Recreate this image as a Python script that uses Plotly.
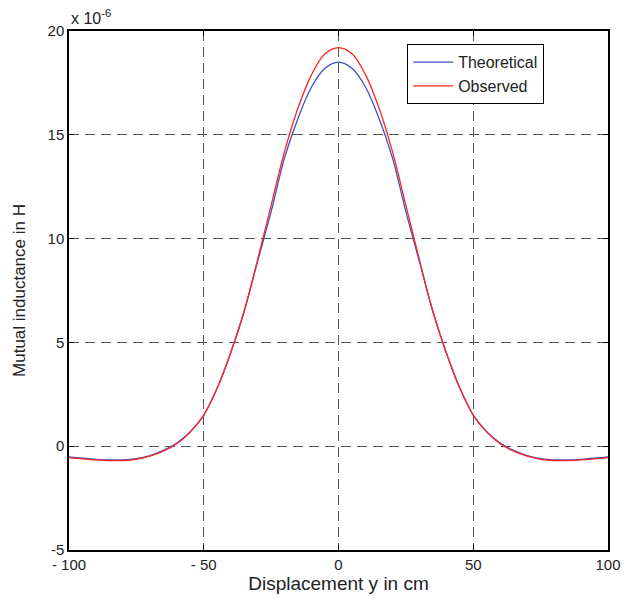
import plotly.graph_objects as go

# Displacement (cm)
x_cm = [-100, -95, -90, -85, -80, -75, -70, -65, -60, -55, -50, -45, -40, -35, -30, -25, -20, -15, -10, -5,
        0, 5, 10, 15, 20, 25, 30, 35, 40, 45, 50, 55, 60, 65, 70, 75, 80, 85, 90, 95, 100]

# Mutual inductance (x 1e-6 H)
theoretical = [-0.52, -0.58, -0.63, -0.66, -0.66, -0.6, -0.45, -0.2, 0.15, 0.7, 1.5, 2.8, 4.5, 6.5, 8.9, 11.3, 13.9, 15.8, 17.3, 18.2,
               18.5, 18.2, 17.3, 15.8, 13.9, 11.3, 8.9, 6.5, 4.5, 2.8, 1.5, 0.7, 0.15, -0.2, -0.45, -0.6, -0.66, -0.66, -0.63, -0.58, -0.52]
observed = [-0.55, -0.61, -0.66, -0.69, -0.69, -0.63, -0.48, -0.24, 0.12, 0.68, 1.5, 2.8, 4.5, 6.5, 9.0, 11.6, 14.2, 16.3, 17.9, 18.9,
            19.2, 18.9, 17.9, 16.3, 14.2, 11.6, 9.0, 6.5, 4.5, 2.8, 1.5, 0.68, 0.12, -0.24, -0.48, -0.63, -0.69, -0.69, -0.66, -0.61, -0.55]

x_ticks = [-100, -50, 0, 50, 100]
x_ticklabels = ["- 100", "- 50", "0", "50", "100"]
y_ticks = [-5, 0, 5, 10, 15, 20]
y_ticklabels = ["-5", "0", "5", "10", "15", "20"]

FONT = "Liberation Sans, Arial, sans-serif"
TXT = "#222222"

fig = go.Figure()
fig.add_trace(go.Scatter(x=x_cm, y=theoretical, mode="lines", name="Theoretical",
                         line=dict(color="#3f4fc0", width=1.3, shape="spline")))
fig.add_trace(go.Scatter(x=x_cm, y=observed, mode="lines", name="Observed",
                         line=dict(color="#ff2424", width=1.3, shape="spline")))

axis_common = dict(
    showline=True, linecolor="black", linewidth=1.5, mirror="ticks",
    ticks="inside", ticklen=5, tickcolor="black",
    showgrid=True, gridcolor="#555555", griddash="10px,6px", gridwidth=1.3,
    zeroline=False, automargin=False, ticklabeloverflow="allow",
    tickfont=dict(family=FONT, size=15, color=TXT),
)

fig.update_xaxes(range=[-100, 100], tickvals=x_ticks, ticktext=x_ticklabels,
                 title=dict(text="Displacement y in cm", font=dict(family=FONT, size=19, color=TXT), standoff=3),
                 **axis_common)
fig.update_yaxes(range=[-5, 20], tickvals=y_ticks, ticktext=y_ticklabels,
                 title=dict(text="Mutual inductance in H", font=dict(family=FONT, size=17, color=TXT), standoff=18),
                 **axis_common)

fig.add_annotation(text="x 10<sup>-6</sup>", xref="paper", yref="paper", x=0.0, y=1.0,
                   xanchor="left", yanchor="bottom", showarrow=False, xshift=0, yshift=2,
                   font=dict(family=FONT, size=16, color=TXT))

fig.update_layout(
    width=624, height=598,
    margin=dict(l=69, r=16, t=31, b=48),
    paper_bgcolor="white", plot_bgcolor="white",
    showlegend=True,
    legend=dict(x=0.627, y=0.975, xanchor="left", yanchor="top",
                bordercolor="black", borderwidth=1.2, bgcolor="white",
                font=dict(family=FONT, size=16, color=TXT),
                tracegroupgap=0, itemwidth=40),
)

# remove the browser's default 8px body margin so the figure fills the window
fig.write_html("out.html",
               config={"displayModeBar": False},
               post_script="document.body.style.margin='0';document.body.style.overflow='hidden';")
